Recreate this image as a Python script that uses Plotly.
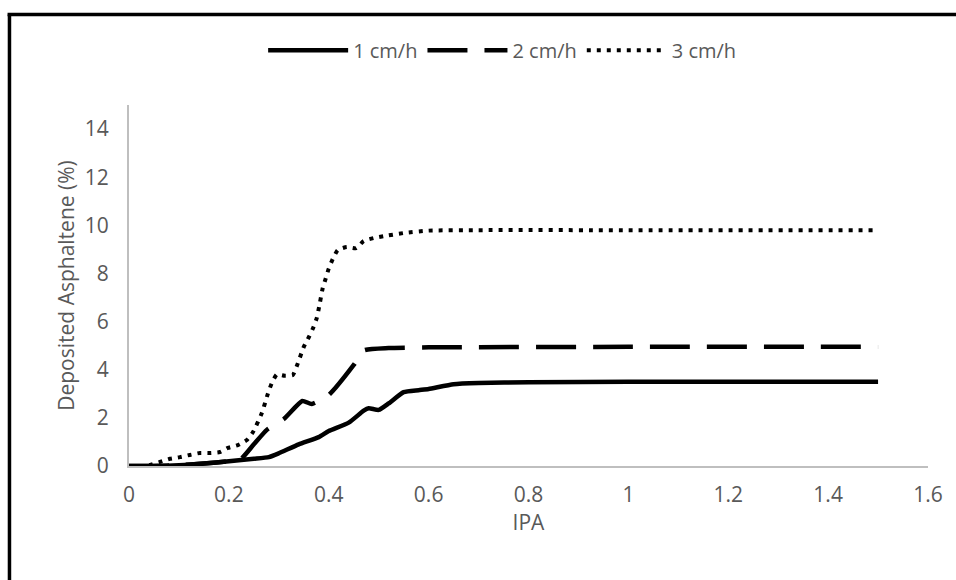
import plotly.graph_objects as go

# Deposited asphaltene vs injected IPA for three flow rates
ipa_1 = [0, 0.05, 0.1, 0.15, 0.2, 0.25, 0.28, 0.3, 0.34, 0.38, 0.4, 0.44, 0.47, 0.48, 0.5, 0.52, 0.55, 0.58, 0.6, 0.65, 0.7, 0.8, 1.0, 1.5]
dep_1 = [0, 0, 0.03, 0.1, 0.2, 0.3, 0.37, 0.53, 0.9, 1.2, 1.45, 1.8, 2.3, 2.4, 2.33, 2.6, 3.07, 3.15, 3.2, 3.4, 3.45, 3.48, 3.5, 3.5]

ipa_2 = [0, 0.05, 0.1, 0.15, 0.2, 0.222, 0.25, 0.276, 0.31, 0.347, 0.366, 0.4, 0.45, 0.47, 0.52, 0.6, 1.0, 1.5]
dep_2 = [0, 0, 0.03, 0.1, 0.2, 0.25, 0.9, 1.5, 1.95, 2.7, 2.58, 2.95, 4.2, 4.8, 4.9, 4.93, 4.95, 4.95]

ipa_3 = [0, 0.03, 0.042, 0.062, 0.082, 0.102, 0.122, 0.142, 0.162, 0.182, 0.198, 0.218, 0.236, 0.248, 0.266, 0.278, 0.286,
         0.296, 0.312, 0.328, 0.336, 0.35, 0.36, 0.368, 0.376, 0.382, 0.388, 0.394, 0.4, 0.408, 0.418, 0.436, 0.455, 0.47,
         0.49, 0.51, 0.55, 0.6, 0.7, 1.0, 1.5]
dep_3 = [0, 0, 0.04, 0.17, 0.3, 0.37, 0.46, 0.54, 0.54, 0.58, 0.75, 0.87, 1.08, 1.4, 2.2, 3.0, 3.45,
         3.8, 3.75, 3.78, 4.15, 4.95, 5.35, 5.7, 6.15, 6.75, 7.4, 7.8, 8.2, 8.6, 8.97, 9.1, 9.05, 9.35,
         9.47, 9.55, 9.68, 9.78, 9.8, 9.8, 9.8]

x_ticks = [0, 0.2, 0.4, 0.6, 0.8, 1, 1.2, 1.4, 1.6]
x_tick_text = ["0", "0.2", "0.4", "0.6", "0.8", "1", "1.2", "1.4", "1.6"]
y_ticks = [0, 2, 4, 6, 8, 10, 12, 14]

FONT = "Open Sans, sans-serif"
TXT = "#595959"
FS = 21

fig = go.Figure()
fig.add_trace(go.Scatter(x=ipa_1, y=dep_1, mode="lines", name="1 cm/h",
                         line=dict(color="black", width=4.5, shape="spline", smoothing=0.5)))
fig.add_trace(go.Scatter(x=ipa_2, y=dep_2, mode="lines", name="2 cm/h",
                         line=dict(color="black", width=4.5, dash="40px,17px", shape="spline", smoothing=0.5)))
fig.add_trace(go.Scatter(x=ipa_3, y=dep_3, mode="lines", name="3 cm/h",
                         line=dict(color="black", width=4, dash="4px,6px", shape="spline", smoothing=0.5)))

fig.update_layout(
    width=956, height=580,
    margin=dict(l=129, r=28, t=105, b=114),
    paper_bgcolor="white", plot_bgcolor="white",
    font=dict(family=FONT, size=FS, color=TXT),
    showlegend=True,
    legend=dict(orientation="h", x=0.467, xanchor="center", y=1.152, yanchor="middle",
                font=dict(family=FONT, size=FS - 1, color=TXT), itemwidth=80, tracegroupgap=0),
    xaxis=dict(range=[0, 1.6], tickvals=x_ticks, ticktext=x_tick_text,
               showgrid=False, zeroline=False, showline=True, linecolor="#bfbfbf", linewidth=2,
               ticks="", ticklabelstandoff=9,
               title=dict(text="IPA", standoff=8, font=dict(family=FONT, size=FS, color=TXT))),
    yaxis=dict(range=[0, 15], tickvals=y_ticks, showgrid=False, zeroline=False,
               showline=True, linecolor="#bfbfbf", linewidth=2, ticks="", ticklabelstandoff=14,
               title=dict(text="Deposited Asphaltene (%)", standoff=4,
                          font=dict(family=FONT, size=FS, color=TXT))),
)

# outer frame (left and top edges)
fig.add_shape(type="line", xref="paper", yref="paper", x0=-0.1496, x1=-0.1496, y0=1.2507, y1=-0.32,
              line=dict(color="black", width=3.5))
fig.add_shape(type="line", xref="paper", yref="paper", x0=-0.152, x1=1.04, y0=1.2507, y1=1.2507,
              line=dict(color="black", width=3.5))

fig.write_html("out.html")
